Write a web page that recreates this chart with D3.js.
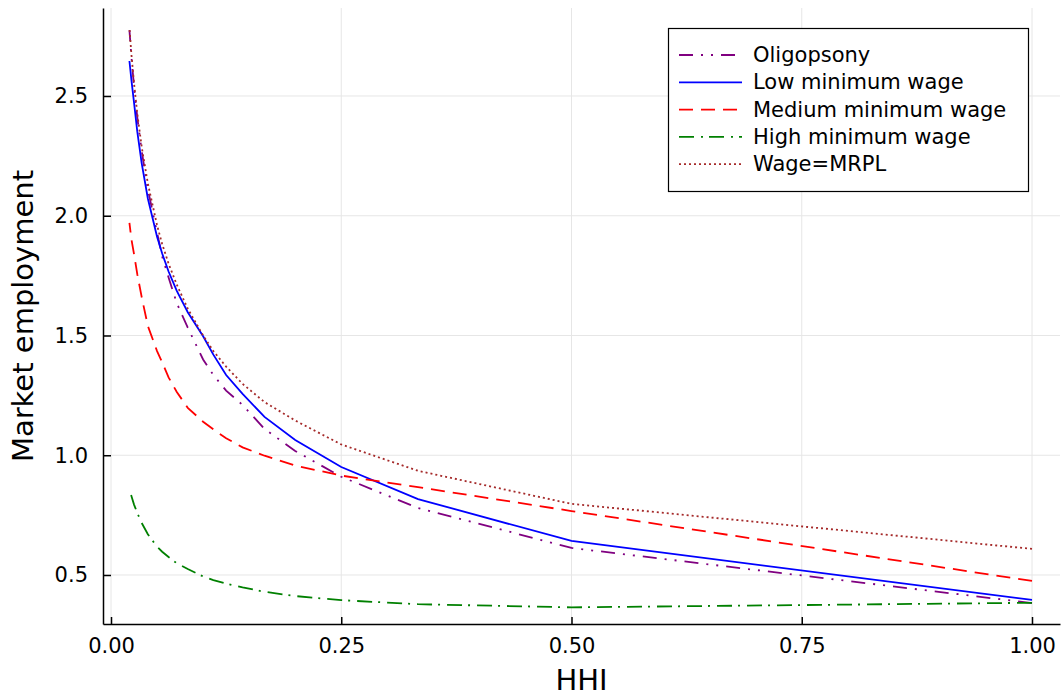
<!DOCTYPE html>
<html>
<head>
<meta charset="utf-8">
<script src="https://cdn.jsdelivr.net/npm/d3@7"></script>
<style>
  html, body { margin: 0; padding: 0; background: #fff; }
  svg { display: block; font-family: "DejaVu Sans", sans-serif; }
</style>
</head>
<body>
<svg id="chart" width="1062" height="696"></svg>
<script>
// Number of firms N; HHI = 1/N
const firms = [1, 2, 3, 4, 5, 6, 7, 8, 9, 10, 12, 14, 16, 18, 20, 25, 30, 35, 40, 45, 50];
const oligopsony = [0.383, 0.613, 0.780, 0.910, 1.018, 1.110, 1.210, 1.270, 1.335, 1.400, 1.533, 1.635, 1.742, 1.830, 1.930, 2.110, 2.270, 2.410, 2.540, 2.660, 2.775];
const lowMin     = [0.396, 0.642, 0.817, 0.951, 1.064, 1.160, 1.256, 1.335, 1.420, 1.497, 1.597, 1.686, 1.767, 1.842, 1.912, 2.072, 2.219, 2.350, 2.472, 2.564, 2.646];
const mediumMin  = [0.475, 0.767, 0.867, 0.915, 0.957, 0.998, 1.033, 1.071, 1.108, 1.140, 1.198, 1.264, 1.325, 1.388, 1.435, 1.540, 1.660, 1.755, 1.840, 1.900, 1.970];
const highMin    = [0.384, 0.365, 0.378, 0.395, 0.412, 0.430, 0.448, 0.464, 0.479, 0.494, 0.525, 0.549, 0.575, 0.597, 0.618, 0.670, 0.717, 0.759, 0.794, 0.829, 0.858];
const wageMRPL   = [0.609, 0.797, 0.935, 1.045, 1.145, 1.222, 1.298, 1.370, 1.435, 1.500, 1.612, 1.712, 1.800, 1.882, 1.960, 2.135, 2.287, 2.425, 2.553, 2.670, 2.785];

const seriesNames = ["Oligopsony", "Low minimum wage", "Medium minimum wage", "High minimum wage", "Wage=MRPL"];
const seriesValues = [oligopsony, lowMin, mediumMin, highMin, wageMRPL];
const seriesColors = ["#800080", "#0000ff", "#ff0000", "#008000", "#a52a2a"];
const seriesDash = ["14,8,2,8,2,8", null, "14,8", "15,7,2,6", "2,3"];

const xTicks = [0, 0.25, 0.5, 0.75, 1.0];
const xTickLabels = ["0.00", "0.25", "0.50", "0.75", "1.00"];
const yTicks = [0.5, 1.0, 1.5, 2.0, 2.5];
const yTickLabels = ["0.5", "1.0", "1.5", "2.0", "2.5"];

const svg = d3.select("#chart");
const pLeft = 103, pRight = 1060, pTop = 8, pBottom = 624;

const x = d3.scaleLinear().domain([-0.0087, 1.0304]).range([pLeft, pRight]);
const y = d3.scaleLinear().domain([0.2954, 2.8674]).range([pBottom, pTop]);

// grid
const grid = svg.append("g");
grid.selectAll("line.gx").data(xTicks).enter().append("line")
  .attr("x1", d => x(d)).attr("x2", d => x(d))
  .attr("y1", pTop).attr("y2", pBottom)
  .attr("stroke", "#e6e6e6").attr("stroke-width", 1);
grid.selectAll("line.gy").data(yTicks).enter().append("line")
  .attr("x1", pLeft).attr("x2", pRight)
  .attr("y1", d => y(d)).attr("y2", d => y(d))
  .attr("stroke", "#e6e6e6").attr("stroke-width", 1);

// axes
const xAxis = d3.axisBottom(x).tickValues(xTicks).tickFormat((d, i) => xTickLabels[i]).tickSizeInner(-7).tickSizeOuter(0).tickPadding(14);
const yAxis = d3.axisLeft(y).tickValues(yTicks).tickFormat((d, i) => yTickLabels[i]).tickSizeInner(-8).tickSizeOuter(0).tickPadding(14);

const gx = svg.append("g").attr("transform", `translate(0,${pBottom})`).call(xAxis);
const gy = svg.append("g").attr("transform", `translate(${pLeft},0)`).call(yAxis);
[gx, gy].forEach(g => {
  g.select(".domain").attr("stroke", "#000").attr("stroke-width", 1.5);
  g.selectAll(".tick line").attr("stroke", "#000").attr("stroke-width", 1.5);
  g.selectAll(".tick text").attr("font-family", "DejaVu Sans").attr("font-size", 21).attr("fill", "#000");
});
gx.selectAll(".tick text").attr("dy", null).attr("y", 21.5).attr("dominant-baseline", "central");
gy.selectAll(".tick text").attr("dy", null).attr("x", -15).attr("dominant-baseline", "central");

// axis labels
svg.append("text").attr("x", (pLeft + pRight) / 2).attr("y", 680)
  .attr("text-anchor", "middle").attr("dominant-baseline", "central")
  .attr("font-size", 29).text("HHI");
svg.append("text").attr("transform", `translate(23,${(pTop + pBottom) / 2}) rotate(-90)`)
  .attr("text-anchor", "middle").attr("dominant-baseline", "central")
  .attr("font-size", 29).text("Market employment");

// lines
const line = d3.line().x(d => x(d[0])).y(d => y(d[1]));
const plot = svg.append("g");
seriesValues.forEach((vals, i) => {
  const pts = firms.map((n, j) => [1 / n, vals[j]]);
  plot.append("path").datum(pts)
    .attr("d", line)
    .attr("fill", "none")
    .attr("stroke", seriesColors[i])
    .attr("stroke-width", 1.8)
    .attr("stroke-dasharray", seriesDash[i]);
});

// legend
const lg = svg.append("g");
lg.append("rect").attr("x", 668.5).attr("y", 28.5).attr("width", 360).attr("height", 163)
  .attr("fill", "#fff").attr("stroke", "#000").attr("stroke-width", 1.2);
seriesNames.forEach((name, i) => {
  const cy = 55 + i * 27.3;
  lg.append("line").attr("x1", 679).attr("x2", 742).attr("y1", cy).attr("y2", cy)
    .attr("stroke", seriesColors[i]).attr("stroke-width", 1.8)
    .attr("stroke-dasharray", seriesDash[i]);
  lg.append("text").attr("x", 753).attr("y", cy).attr("dominant-baseline", "central")
    .attr("font-size", 21).text(name);
});
</script>
</body>
</html>
